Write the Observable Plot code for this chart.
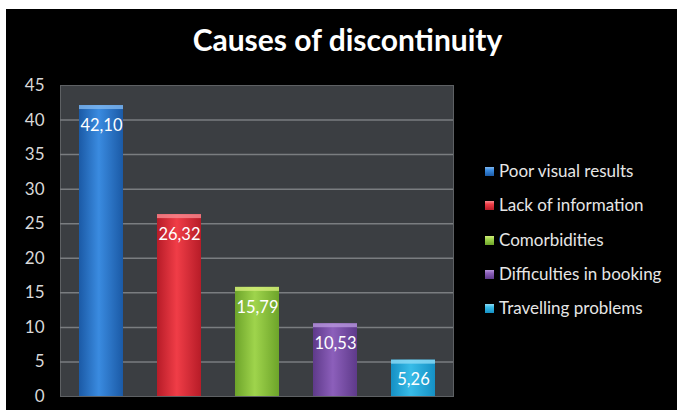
<!DOCTYPE html>
<html>
<head>
<meta charset="utf-8">
<script src="https://cdn.jsdelivr.net/npm/d3@7"></script>
<script src="https://cdn.jsdelivr.net/npm/@observablehq/plot@0.6"></script>
<style>
  html, body { margin: 0; padding: 0; background: #fff; }
  #wrap { position: absolute; left: 6px; top: 9px; width: 671px; height: 401px; background: #000; font-family: Lato, "Open Sans", sans-serif; overflow: hidden; }
  #title { position: absolute; left: 6px; top: 12px; width: 671px; text-align: center; color: #fff; font-weight: bold; font-size: 30px; }
  #chart { position: absolute; left: 0; top: 61px; }
  #legend { position: absolute; left: 479px; top: 151px; color: #e6e6e6; font-size: 17px; }
  .item { height: 34.3px; display: flex; align-items: flex-start; white-space: nowrap; }
  .sw { width: 9px; height: 9px; margin-right: 5px; margin-top: 7px; }
</style>
</head>
<body>
<div id="wrap">
  <div id="title">Causes of discontinuity</div>
  <div id="chart"></div>
  <div id="legend"></div>
</div>
<script>
const causes = ["Poor visual results", "Lack of information", "Comorbidities", "Difficulties in booking", "Travelling problems"];
const values = [42.10, 26.32, 15.79, 10.53, 5.26];
const yTicks = [0, 5, 10, 15, 20, 25, 30, 35, 40, 45];
const edgeColors = ["#1b5aa6", "#b71c28", "#6da42a", "#5e3a8a", "#1590c4"];
const midColors = ["#3a8be0", "#f03d47", "#9fd44c", "#8c5fbb", "#38bce8"];
const topColors = ["#7fb6ef", "#f78a90", "#d4ee7a", "#b796dc", "#8fdcf6"];

const data = causes.map((c, i) => ({cause: c, value: values[i], label: values[i].toFixed(2).replace(".", ","), idx: i}));

const gradDefs = () => {
  const defs = d3.create("svg:defs");
  edgeColors.forEach((c, i) => {
    const g = defs.append("linearGradient").attr("id", "g" + i)
      .attr("x1", 0).attr("x2", 1).attr("y1", 0).attr("y2", 0);
    g.append("stop").attr("offset", "0%").attr("stop-color", c);
    g.append("stop").attr("offset", "45%").attr("stop-color", midColors[i]);
    g.append("stop").attr("offset", "100%").attr("stop-color", c);
  });
  return defs.node();
};

const chart = Plot.plot({
  width: 455,
  height: 340,
  marginLeft: 54,
  marginRight: 8,
  marginTop: 15,
  marginBottom: 14,
  style: {background: "transparent", color: "#d9d9d9", fontFamily: "Lato, 'Open Sans', sans-serif"},
  x: {domain: causes, paddingInner: 0.44, paddingOuter: 0.22, axis: null},
  y: {domain: [0, 45], axis: null},
  color: {domain: causes, range: causes.map((_, i) => `url(#g${i})`)},
  marks: [
    gradDefs,
    Plot.frame({fill: "#3b3e42", stroke: "#5e6164"}),
    Plot.ruleY(yTicks.filter(d => d > 0 && d < 45), {stroke: "#7a7d80", strokeWidth: 1.5}),
    Plot.axisY({ticks: yTicks, tickSize: 0, tickPadding: 16, fontSize: 17, label: null, tickFormat: d => d}),
    Plot.barY(data, {x: "cause", y: "value", fill: "cause"}),
    Plot.barY(data, {x: "cause", y1: "value", y2: "value", insetBottom: -4, fill: d => topColors[d.idx], fillOpacity: 0.8}),
    Plot.text(data, {x: "cause", y: "value", text: "label", dy: 20, fill: "#fff", fontSize: 16.5})
  ]
});
document.getElementById("chart").append(chart);

const legend = document.getElementById("legend");
causes.forEach((c, i) => {
  const item = document.createElement("div");
  item.className = "item";
  const sw = document.createElement("span");
  sw.className = "sw";
  sw.style.background = `linear-gradient(to bottom, ${topColors[i]} 0%, ${midColors[i]} 35%, ${edgeColors[i]} 100%)`;
  const t = document.createElement("span");
  t.textContent = c;
  item.append(sw, t);
  legend.append(item);
});
</script>
</body>
</html>
